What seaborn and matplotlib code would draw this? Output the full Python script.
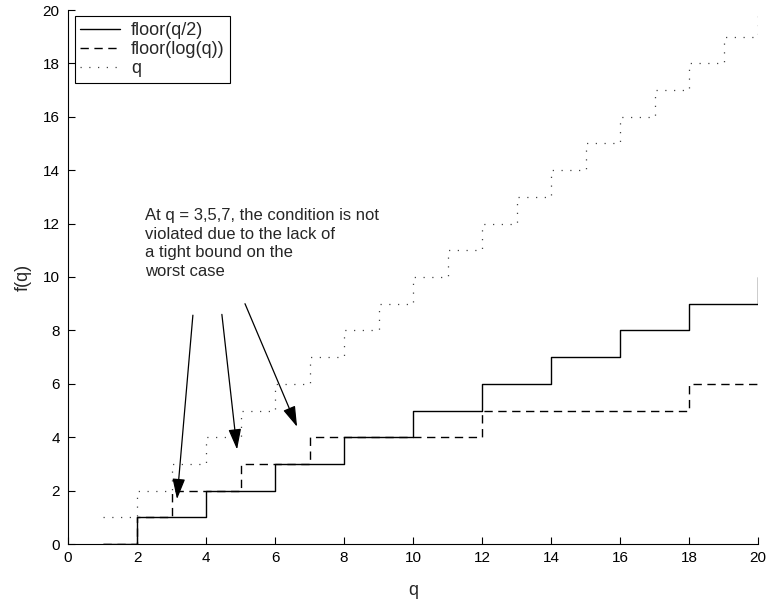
import numpy as np
import pandas as pd
import matplotlib
matplotlib.use('Agg')
import matplotlib.pyplot as plt
import seaborn as sns

sns.set_style('white')
plt.rcParams['font.family'] = ['Liberation Sans', 'DejaVu Sans']

# values
q = list(range(1, 21))
floor_half = [0, 1, 1, 2, 2, 3, 3, 4, 4, 5, 5, 6, 6, 7, 7, 8, 8, 9, 9, 10]
floor_log = [0, 1, 2, 2, 3, 3, 4, 4, 4, 4, 4, 5, 5, 5, 5, 5, 5, 6, 6, 6]
q_vals = list(range(1, 21))

df = pd.DataFrame({'q': q, 'half': floor_half, 'log': floor_log, 'q_line': q_vals})

fig = plt.figure(figsize=(7.66, 6.02), dpi=100)
ax = fig.add_axes([68 / 766, 1 - 544 / 602, 690 / 766, 534 / 602])

sns.lineplot(data=df, x='q', y='half', ax=ax, color='black', lw=1.0,
             drawstyle='steps-post', label='floor(q/2)')
sns.lineplot(data=df, x='q', y='log', ax=ax, color='black', lw=1.0,
             drawstyle='steps-post', linestyle=(0, (6, 4)), label='floor(log(q))')
sns.lineplot(data=df, x='q', y='q_line', ax=ax, color='#444444', lw=0.9,
             drawstyle='steps-post', linestyle=(0, (1, 6)), label='q')

ax.set_xlim(0, 20)
ax.set_ylim(0, 20)
ax.set_xticks(range(0, 21, 2))
ax.set_yticks(range(0, 21, 2))
ax.tick_params(direction='in', length=5, width=0.8, labelsize=11, colors='black',
               left=True, bottom=True)
ax.tick_params(axis='x', pad=5)
ax.tick_params(axis='y', pad=6)
for side in ['top', 'right']:
    ax.spines[side].set_visible(False)
for side in ['left', 'bottom']:
    ax.spines[side].set_color('black')
    ax.spines[side].set_linewidth(0.8)

ax.set_xlabel('q', fontsize=13, labelpad=12)
ax.set_ylabel('f(q)', fontsize=13, labelpad=8)

leg = ax.legend(loc='upper left', bbox_to_anchor=(0.01, 0.988), fontsize=13,
                frameon=True, fancybox=False, edgecolor='black', framealpha=1,
                handlelength=2.2, borderpad=0.3, labelspacing=0.12, handletextpad=0.6,
                borderaxespad=0.0)
leg.get_frame().set_linewidth(0.8)

ax.text(2.23, 12.6, 'At q = 3,5,7, the condition is not\nviolated due to the lack of\n'
        'a tight bound on the\nworst case', fontsize=12, va='top', ha='left',
        linespacing=1.33)

arrows = [((3.62, 8.57), (3.16, 1.68)),
          ((4.46, 8.6), (4.90, 3.54)),
          ((5.13, 9.0), (6.64, 4.39))]
for tail, tip in arrows:
    ax.annotate('', xy=tip, xytext=tail,
                arrowprops=dict(arrowstyle='-|>,head_length=0.9,head_width=0.28',
                                color='black', lw=0.9, shrinkA=0, shrinkB=0,
                                mutation_scale=14))

fig.savefig('out.png', dpi=100)
